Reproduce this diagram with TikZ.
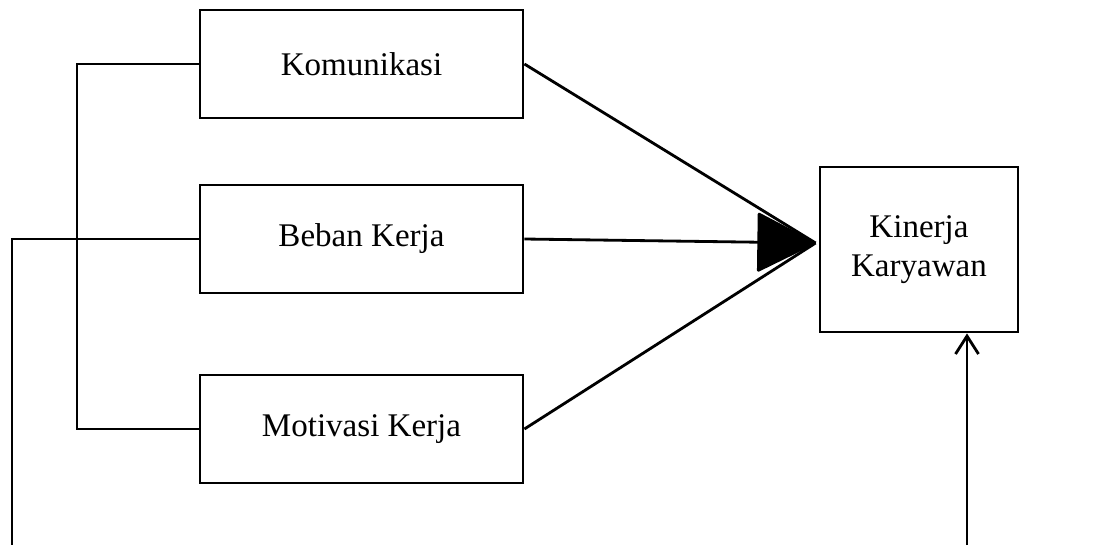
\documentclass[tikz,border=0pt]{standalone}
\usepackage{fontspec}
\setmainfont{Liberation Serif}
\usetikzlibrary{positioning, arrows.meta, calc}
\tikzset{
    varbox/.style={draw, line width=1.6pt, minimum width=6.46cm, minimum height=2.16cm, inner sep=0pt},
    kinbox/.style={draw, line width=1.6pt, minimum width=3.96cm, minimum height=3.3cm, align=center, inner sep=0pt},
    link/.style={line width=1.6pt},
}
\begin{document}
\begin{tikzpicture}[
    every node/.style={font=\fontsize{18.8}{22}\selectfont},
]
\useasboundingbox (0,0) rectangle (21.98,10.9);
\node[varbox] (kom) at (7.23,9.62) {Komunikasi};
\node[varbox] (beban) at (7.23,6.12) {Beban Kerja};
\node[varbox] (motiv) at (7.23,2.32) {Motivasi Kerja};
\node[kinbox] (kin) at (18.38,5.91) {Kinerja\\Karyawan};
\coordinate (tip) at ([xshift=-0.06cm, yshift=0.13cm]kin.west);
\coordinate (brk) at (1.54,0);
\coordinate (lft) at (0.24,0);
\coordinate (bot) at (19.34,0);

% bracket and outer lines
\draw[link] (kom.west) -- (brk |- kom.west) -- (brk |- motiv.west) -- (motiv.west);
\draw[link] (beban.west) -- (lft |- beban.west) -- (lft);
\draw[link, -{Straight Barb[length=0.36cm, width=0.46cm]}] (bot) -- (bot |- kin.south);

% paths to Kinerja
\draw[link] (kom.east) -- (tip);
\draw[link] (motiv.east) -- (tip);
\draw[link, -{Triangle[length=1.2cm, width=1.2cm, round]}] (beban.east) -- (tip);
\end{tikzpicture}
\end{document}
